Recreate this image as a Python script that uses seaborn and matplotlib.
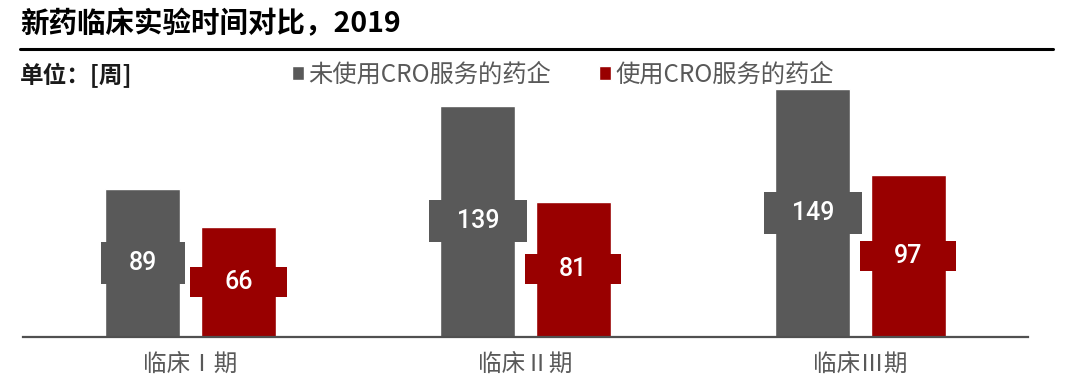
import pandas as pd
import seaborn as sns
import matplotlib.pyplot as plt
from matplotlib.lines import Line2D
from matplotlib.path import Path

# chart data (weeks)
phases = ["临床Ⅰ期", "临床Ⅱ期", "临床Ⅲ期"]
groups = ["未使用CRO服务的药企", "使用CRO服务的药企"]
no_cro = [89, 139, 149]
with_cro = [66, 81, 97]
colors = ["#595959", "#990000"]

df = pd.DataFrame({
    "phase": phases * 2,
    "weeks": no_cro + with_cro,
    "group": [groups[0]] * 3 + [groups[1]] * 3,
})

sns.set_style("white")
plt.rcParams["font.family"] = ["Noto Sans CJK SC", "DejaVu Sans"]

fig = plt.figure(figsize=(10.8, 3.9), dpi=100)
ax = fig.add_axes([0.0213, 0.137, 0.9306, 0.658])

sns.barplot(data=df, x="phase", y="weeks", hue="group", palette=colors,
            width=0.57, gap=0.215, saturation=1, ax=ax)

ax.set_xlim(-0.5, 2.5)
ax.set_ylim(0, 154.4)
ax.set_xlabel("")
ax.set_ylabel("")
ax.set_yticks([])
ax.tick_params(axis="x", length=0, pad=12, labelsize=17, labelcolor="#595959")
for s in ["top", "left", "right"]:
    ax.spines[s].set_visible(False)
ax.spines["bottom"].set_color("#505050")
ax.spines["bottom"].set_linewidth(1.6)


# label boxes: wider than the bar, separate horizontal / vertical padding (px)
def make_box(padx, pady):
    def box(x0, y0, w, h, mutation_size):
        x0, y0 = x0 - padx, y0 - pady
        w, h = w + 2 * padx, h + 2 * pady
        return Path([(x0, y0), (x0 + w, y0), (x0 + w, y0 + h), (x0, y0 + h), (x0, y0)],
                    closed=True)
    return box


pads = [(28, 9), (34, 3)]
for cont, vals, col, (px, py) in zip(ax.containers, [no_cro, with_cro], colors, pads):
    ax.bar_label(cont, labels=[str(v) for v in vals], label_type="center",
                 color="white", fontsize=18, fontweight="medium", family=["Roboto"],
                 bbox=dict(boxstyle=make_box(px, py), fc=col, ec="none"))

handles, labels = ax.get_legend_handles_labels()
ax.legend(handles, labels, loc="center left", bbox_to_anchor=(292 / 1080, 1 - 75 / 390),
          bbox_transform=fig.transFigure, ncol=2, frameon=False, fontsize=17.5,
          handlelength=0.5, handleheight=0.5, handletextpad=0.15, columnspacing=2.0,
          labelcolor="#595959", borderpad=0, borderaxespad=0)

fig.text(20 / 1080, 1 - 24 / 390, "新药临床实验时间对比，2019", fontsize=20.5,
         fontweight="bold", va="center", ha="left", color="black")
fig.add_artist(Line2D([20 / 1080, 1053 / 1080], [1 - 49 / 390] * 2,
                      transform=fig.transFigure, color="black", lw=2.2))
fig.text(20 / 1080, 1 - 75 / 390, "单位：[周]", fontsize=17, fontweight="bold",
         va="center", ha="left", color="#1a1a1a")

fig.savefig("out.png", dpi=100)
